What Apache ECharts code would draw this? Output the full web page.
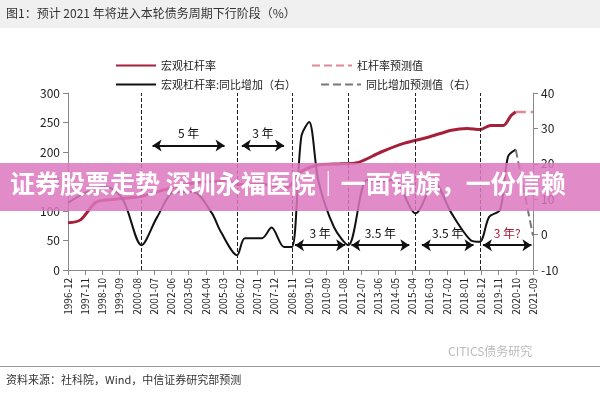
<!DOCTYPE html>
<html><head><meta charset="utf-8">
<script src="https://cdn.jsdelivr.net/npm/echarts@6/dist/echarts.min.js"></script>
<style>html,body{margin:0;padding:0;background:#fff}#c{width:600px;height:400px}</style>
</head><body><div id="c"></div>
<script>
// categories: monthly 1996-12 .. 2021-09
const months = [];
for (let y = 1996, m = 12; y < 2021 || (y === 2021 && m <= 9); ) {
  months.push(y + '-' + String(m).padStart(2, '0'));
  m++; if (m > 12) { m = 1; y++; }
}
// [month index, value]
const leverageActual = [[0,80],[8,85],[18,115],[30,120],[47,125],[60,135],[75,145],[90,150],[100,150],[110,145],[125,145],[140,140],[148,165],[160,178],[175,180],[185,182],[200,200],[215,215],[230,225],[245,237],[255,240],[263,238],[270,245],[278,245],[283,262],[286,268]];
const leverageForecast = [[286,268],[290,268],[297,268]];
const yoyActual = [[0,9],[12,12],[24,13.5],[35,10],[47,-3],[57,5],[68,12],[80,12],[92,6],[97,1.3],[108,-5.8],[113,-1],[124,-1],[130,2],[138,-3.5],[143,-3.5],[149,27.6],[154,31.8],[160,15],[170,2],[179,-3],[191,15.4],[200,15],[208,15.5],[222,6],[234,14.6],[245,6],[257,-1.5],[263,-2],[269,5],[276,7],[281,22],[286,24]];
const yoyForecast = [[286,24],[297,-0.3]];
const cycleLines = [47,108,143,179,222,263];
// arrows: [from idx, to idx, left-axis y, label, colour]
const arrows = [[54,100,211,'5 年','#111'],[111,138,211,'3 年','#111'],[145,177,42,'3 年','#111'],[181,218,42,'3.5 年','#111'],[226,259,42,'3.5 年','#111'],[265,296,42,'3 年?','#a5203a']];

const toPts = a => a.map(p => [months[p[0]], p[1]]);
const chart = echarts.init(document.getElementById('c'));
const font = 'Noto Sans CJK SC';
chart.setOption({
  animation: false,
  textStyle: { fontFamily: font },
  grid: { left: 68, right: 67, top: 93, bottom: 130 },
  legend: [
    { left: 110, top: 55, itemWidth: 40, itemHeight: 8, itemGap: 95, itemStyle: { opacity: 0 }, textStyle: { fontSize: 11, color: '#222' },
      data: ['宏观杠杆率', '杠杆率预测值'] },
    { left: 110, top: 74, itemWidth: 40, itemHeight: 8, itemGap: 24, itemStyle: { opacity: 0 }, textStyle: { fontSize: 11, color: '#222' },
      data: ['宏观杠杆率:同比增加（右）', '同比增加预测值（右）'] }
  ],
  xAxis: { type: 'category', data: months, boundaryGap: false,
    axisLine: { lineStyle: { color: '#888' } },
    axisTick: { interval: 10, lineStyle: { color: '#888' } },
    axisLabel: { interval: 10, rotate: 90, fontSize: 10, color: '#222' } },
  yAxis: [
    { type: 'value', min: 0, max: 300, interval: 50, splitLine: { show: false },
      axisLine: { show: true, lineStyle: { color: '#888' } }, axisTick: { show: true },
      axisLabel: { fontSize: 12, color: '#222' } },
    { type: 'value', min: -10, max: 40, interval: 10, splitLine: { show: false },
      axisLine: { show: true, lineStyle: { color: '#888' } }, axisTick: { show: true },
      axisLabel: { fontSize: 12, color: '#222' } }
  ],
  series: [
    { name: '宏观杠杆率', type: 'line', data: toPts(leverageActual), smooth: 0.3, symbol: 'none',
      lineStyle: { color: '#a5203a', width: 3 }, itemStyle: { color: '#a5203a' },
      markLine: { silent: true, symbol: 'none', label: { show: false },
        lineStyle: { color: '#222', type: 'dashed', width: 1 },
        data: cycleLines.map(i => ({ xAxis: months[i] })) } },
    { name: '杠杆率预测值', type: 'line', data: toPts(leverageForecast), symbol: 'none',
      lineStyle: { color: '#e0889a', width: 2.5, type: 'dashed' }, itemStyle: { color: '#e0889a' } },
    { name: '宏观杠杆率:同比增加（右）', type: 'line', yAxisIndex: 1, data: toPts(yoyActual), smooth: 0.3, symbol: 'none',
      lineStyle: { color: '#111', width: 2 }, itemStyle: { color: '#111' } },
    { name: '同比增加预测值（右）', type: 'line', yAxisIndex: 1, data: toPts(yoyForecast), smooth: 0.3, symbol: 'none',
      lineStyle: { color: '#777', width: 2, type: 'dashed' }, itemStyle: { color: '#777' } },
    { name: 'arrows', type: 'line', data: [], markLine: { silent: true, symbol: ['arrow', 'arrow'], symbolSize: 9,
      data: arrows.map(a => [
        { coord: [months[a[0]], a[2]], lineStyle: { color: '#111', width: 2, type: 'solid' },
          label: { show: true, position: 'middle', formatter: a[3], color: a[4], fontSize: 12, distance: 6 } },
        { coord: [months[a[1]], a[2]] }]) } }
  ],
  graphic: [
    { type: 'rect', left: 0, top: 0, shape: { width: 600, height: 28 }, style: { fill: '#f0f0f0' } },
    { type: 'text', left: 6, top: 7, style: { text: '图1：预计 2021 年将进入本轮债务周期下行阶段（%）', fontSize: 12, fill: '#333', fontFamily: font } },
    { type: 'rect', left: 0, top: 163, z: 100, shape: { width: 600, height: 48 }, style: { fill: 'rgba(220,120,190,0.85)' } },
    { type: 'text', left: 10, top: 171, z: 101, style: { text: '证券股票走势 深圳永福医院｜一面锦旗，一份信赖', fontSize: 25, fontWeight: 'bold', fill: '#fff', fontFamily: font } },
    { type: 'rect', left: 0, top: 366, shape: { width: 600, height: 1 }, style: { fill: '#999' } },
    { type: 'text', left: 6, top: 374, style: { text: '资料来源：社科院，Wind，中信证券研究部预测', fontSize: 11, fill: '#333', fontFamily: font } },
    { type: 'text', left: 448, top: 345, style: { text: 'CITICS债务研究', fontSize: 12, fill: '#bbb', fontFamily: font } }
  ]
});
</script></body></html>
